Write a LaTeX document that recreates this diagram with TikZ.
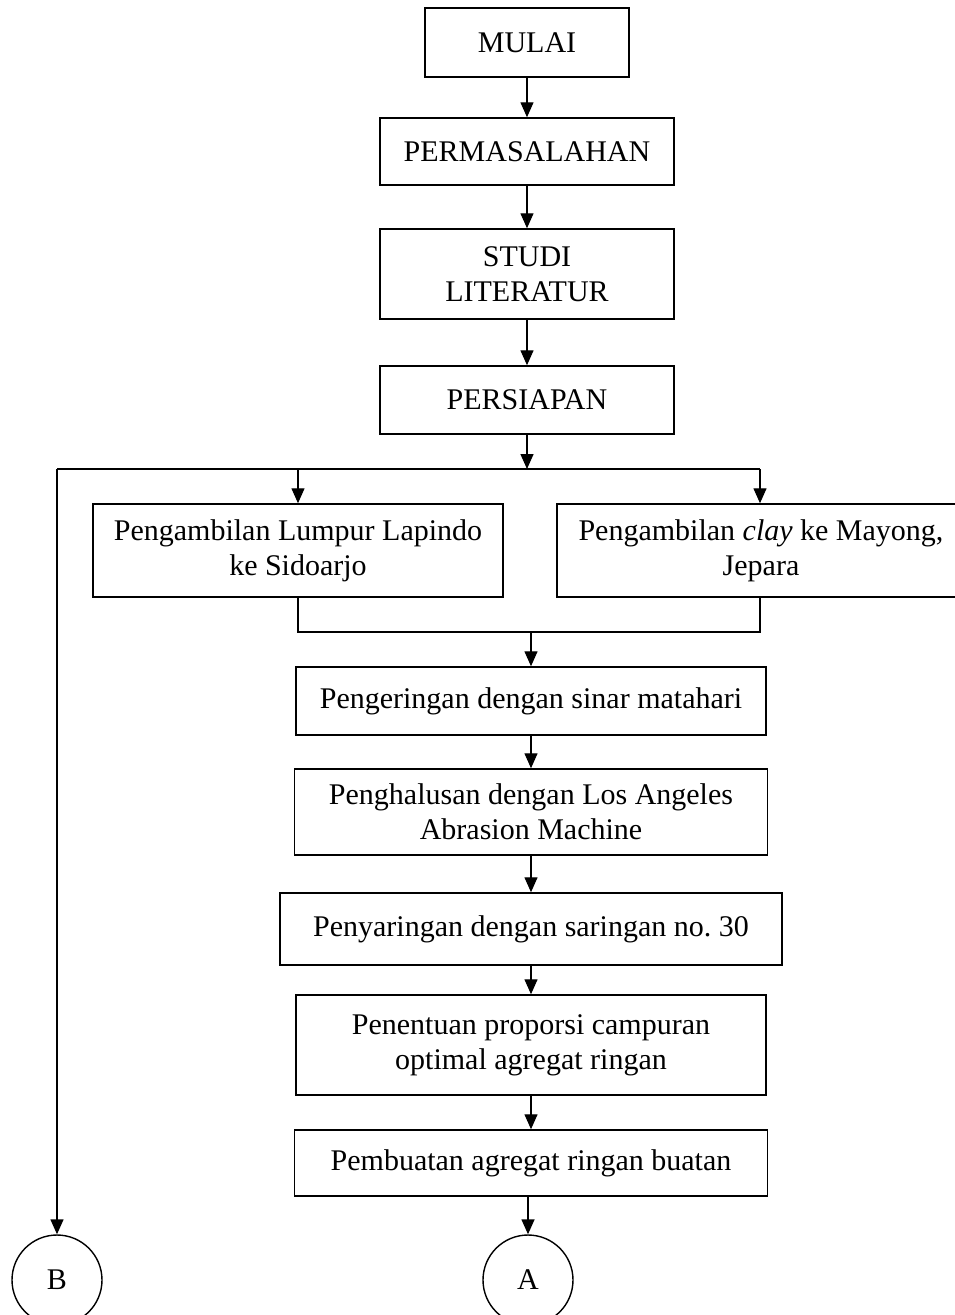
\documentclass[tikz,border=0pt]{standalone}
\usepackage{fontspec}
\setmainfont{Liberation Serif}
\usetikzlibrary{arrows.meta}
\begin{document}
\begin{tikzpicture}[x=1pt,y=-1pt,
  box/.style={draw, line width=1.5pt, inner sep=0pt, align=center, font=\fontsize{30}{35}\selectfont},
  conn/.style={draw, line width=1.4pt, circle, inner sep=0pt, minimum size=90pt, font=\fontsize{30}{35}\selectfont},
  arr/.style={line width=1.4pt, -{Triangle[width=13pt,length=15pt]}},
  ln/.style={line width=1.4pt}]
\useasboundingbox (0,0) rectangle (955,1315);
\clip (0,0) rectangle (955,1315);
\node[box, minimum width=204pt, minimum height=69pt] (mulai) at (527,42.5) {MULAI};
\node[box, minimum width=294pt, minimum height=67pt] (perm) at (527,151.5) {PERMASALAHAN};
\node[box, minimum width=294pt, minimum height=90pt] (studi) at (527,274) {STUDI\\LITERATUR};
\node[box, minimum width=294pt, minimum height=68pt] (pers) at (527,400) {PERSIAPAN};
\node[box, minimum width=410pt, minimum height=93pt] (lb) at (298,550.5) {Pengambilan Lumpur Lapindo\\ke Sidoarjo};
\node[box, minimum width=408pt, minimum height=93pt] (rb) at (761,550.5) {Pengambilan \textit{clay} ke Mayong,\\Jepara};
\node[box, minimum width=470pt, minimum height=68pt] (peng) at (531,701) {Pengeringan dengan sinar matahari};
\node[box, minimum width=473pt, minimum height=86pt] (halus) at (531,812) {Penghalusan dengan Los Angeles\\Abrasion Machine};
\node[box, minimum width=502pt, minimum height=72pt] (saring) at (531,929) {Penyaringan dengan saringan no.\ 30};
\node[box, minimum width=470pt, minimum height=100pt] (tentu) at (531,1045) {Penentuan proporsi campuran\\optimal agregat ringan};
\node[box, minimum width=473pt, minimum height=66pt] (buat) at (531,1163) {Pembuatan agregat ringan buatan};
\node[conn] (B) at (57,1280) {B};
\node[conn] (A) at (528,1280) {A};
\coordinate (bl) at (57,469);
\coordinate (br) at (760,469);
\coordinate (mg) at (531,632);
\draw[arr] (mulai) -- (perm);
\draw[arr] (perm) -- (studi);
\draw[arr] (studi) -- (pers);
\draw[arr] (pers.south) -- (pers.south |- bl);
\draw[ln] (bl) -- (br);
\draw[arr] (lb.north |- bl) -- (lb.north);
\draw[arr] (br) -- (rb.north -| br);
\draw[ln] (lb.south) |- (mg);
\draw[ln] (rb.south -| br) |- (mg);
\draw[arr] (mg) -- (peng.north);
\draw[arr] (peng) -- (halus);
\draw[arr] (halus) -- (saring);
\draw[arr] (saring) -- (tentu);
\draw[arr] (tentu) -- (buat);
\draw[arr] (buat.south -| A) -- (A);
\draw[arr] (bl) -- (B);
\end{tikzpicture}
\end{document}
